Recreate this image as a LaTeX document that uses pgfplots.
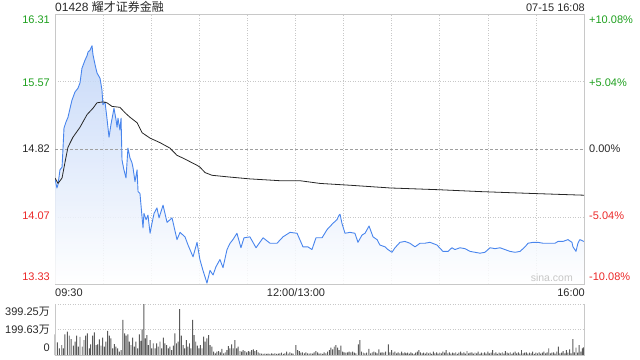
\documentclass[border=0pt]{standalone}
\usepackage{pgfplots}
\pgfplotsset{compat=1.18}
\usepackage{pgfplotstable}
\usepackage{fontspec}
\setmainfont{Liberation Sans}
\newfontfamily\cjk{Noto Sans CJK SC}
\definecolor{upgreen}{RGB}{30,160,30}
\definecolor{downred}{RGB}{235,40,40}
\definecolor{pline}{RGB}{72,133,237}
\definecolor{pfill}{RGB}{190,211,247}
\definecolor{framegray}{RGB}{200,200,200}
\definecolor{gridgray}{RGB}{200,200,200}
\definecolor{txt}{RGB}{40,40,40}
\definecolor{volbar}{RGB}{90,90,90}
\newcommand\lab{\fontsize{11bp}{13bp}\selectfont}

\pgfplotstableread{
m p
0 14.49
1.2 14.39
1.9 14.43
3.1 14.59
4.4 14.62
5.0 14.83
5.6 15.05
6.9 15.12
8.1 15.17
9.4 15.27
10.6 15.36
12.5 15.45
14.3 15.49
15.6 15.55
16.8 15.71
18.7 15.80
20.0 15.85
20.6 15.89
21.8 15.91
23.1 15.96
23.7 15.86
25.0 15.75
26.2 15.66
28.1 15.60
29.3 15.47
29.9 15.31
31.2 15.34
32.4 15.16
33.7 14.95
34.9 15.09
36.8 15.27
38.1 15.14
38.7 15.06
39.3 15.16
40.5 15.03
41.2 15.16
41.8 14.70
43.0 14.59
44.3 14.50
45.5 14.83
46.8 14.72
48.0 14.67
48.7 14.61
49.9 14.46
51.2 14.59
51.8 14.35
53.0 14.33
54.3 14.07
54.9 13.95
55.5 14.11
56.8 14.04
58.0 14.09
59.3 13.89
60.5 14.00
61.8 14.11
63.6 14.17
64.9 14.06
67.4 14.20
69.9 14.01
73.0 14.06
76.1 13.82
78.0 13.90
81.1 13.85
83.0 13.76
86.1 13.63
88.6 13.79
90.4 13.60
92.3 13.48
94.8 13.34
96.7 13.48
98.6 13.43
100.4 13.52
102.9 13.60
104.8 13.51
107.3 13.71
109.2 13.78
111.0 13.82
113.5 13.89
116.0 13.73
117.9 13.84
121.6 13.85
125.4 13.73
129.8 13.84
134.1 13.78
138.5 13.78
142.2 13.85
146.6 13.90
151.0 13.89
154.7 13.74
157.8 13.74
160.3 13.71
162.8 13.84
166.6 13.84
169.7 13.93
173.4 14.00
175.9 14.04
177.2 14.09
177.8 14.10
179.0 14.00
180.9 13.89
184.0 13.90
187.1 13.89
189.0 13.79
191.5 13.87
193.4 13.89
195.9 13.97
198.4 13.85
200.9 13.82
202.7 13.76
205.9 13.74
207.7 13.71
210.2 13.68
212.1 13.73
215.2 13.79
218.3 13.80
221.4 13.78
224.6 13.74
227.7 13.78
230.8 13.78
233.9 13.79
238.3 13.76
242.0 13.69
245.2 13.69
247.6 13.73
249.5 13.71
252.6 13.73
255.8 13.72
258.9 13.69
262.0 13.68
265.1 13.67
268.2 13.68
271.4 13.73
274.5 13.72
277.6 13.73
280.7 13.71
283.8 13.69
287.0 13.68
290.1 13.69
293.2 13.74
295.1 13.78
298.2 13.79
301.3 13.79
304.4 13.78
308.8 13.78
311.9 13.78
313.8 13.80
316.9 13.80
320.0 13.82
322.5 13.79
323.1 13.74
325.0 13.69
326.2 13.78
327.4 13.82
329.9 13.80
}\price

\pgfplotstableread{
m p
0 14.50
1.9 14.44
4.4 14.50
6.2 14.67
8.1 14.84
11.2 14.95
15.6 15.06
20.0 15.20
23.7 15.27
26.2 15.33
29.9 15.34
32.4 15.33
35.6 15.29
40.5 15.28
43.7 15.22
46.8 15.17
51.2 15.11
54.3 15.00
59.3 14.94
65.5 14.89
71.7 14.83
76.1 14.75
79.8 14.72
84.2 14.68
88.6 14.64
90.4 14.62
93.6 14.56
97.9 14.53
109.2 14.51
121.6 14.49
140.4 14.47
152.8 14.47
165.3 14.44
184.0 14.42
209.0 14.39
240.2 14.37
265.1 14.35
296.3 14.33
330.0 14.31
}\avgp

\pgfplotstableread{
m v
0 162
1.5 99
2.7 52
4.2 78
5.2 52
6.2 162
7.7 183
8.9 151
10.0 125
11.4 73
12.5 104
13.5 151
14.6 65
15.6 141
17.0 65
18.1 117
19.1 151
20.2 170
21.4 52
22.2 83
23.5 151
24.5 177
25.6 78
26.6 83
27.7 123
28.7 73
29.7 136
30.8 65
31.8 104
32.8 188
33.9 151
34.9 130
36.0 52
37.0 86
38.0 65
39.1 52
40.1 26
41.2 39
42.4 274
43.4 170
44.4 151
45.4 162
46.4 104
47.4 78
48.4 136
49.5 65
50.5 104
51.6 52
52.6 162
53.6 110
54.4 201
55.4 399
56.4 130
57.3 156
58.3 78
59.3 117
60.3 52
61.3 91
62.4 52
63.4 91
64.4 65
65.5 104
66.5 52
67.6 136
68.6 91
69.6 78
70.7 52
71.7 65
72.8 39
73.8 73
74.8 170
75.8 91
76.8 104
77.8 360
78.9 151
79.9 78
80.9 52
81.9 117
82.9 65
83.9 91
84.8 52
85.8 274
86.8 156
87.8 104
88.8 73
89.7 52
90.7 78
91.7 52
92.7 143
93.7 104
94.8 130
95.8 156
96.8 78
97.9 65
99.0 26
100.0 13
101.0 26
102.1 31
103.1 21
104.1 47
105.2 13
106.2 21
107.2 39
108.2 70
109.1 52
110.2 83
111.2 52
112.2 117
113.3 52
114.3 65
115.4 31
116.4 26
117.4 39
118.5 31
119.5 21
120.6 31
121.6 26
122.6 39
123.7 44
124.7 31
125.8 39
126.8 21
127.8 13
128.9 10
129.9 8
130.9 10
132.0 8
133.0 10
134.1 8
135.1 13
136.1 8
137.2 13
138.2 8
139.3 10
140.3 13
141.3 18
142.4 8
143.4 13
144.5 26
145.5 10
146.5 21
147.6 13
148.6 10
150.3 78
151.3 39
152.4 31
153.4 18
154.4 21
155.5 13
156.5 21
157.6 13
158.6 10
159.6 13
160.7 10
161.7 21
162.8 31
163.8 21
164.8 10
165.9 13
166.9 8
167.9 21
169.0 13
170.0 26
171.1 39
172.1 57
173.2 44
174.2 65
175.2 78
176.3 57
177.3 39
178.3 73
179.4 26
180.4 21
181.5 18
182.5 21
183.5 26
184.6 21
185.6 26
186.7 18
187.7 13
189.2 83
190.2 117
191.2 26
192.3 18
193.3 13
194.4 18
195.8 47
196.9 13
197.9 21
198.9 26
200.0 21
201.0 13
202.1 44
203.1 18
204.1 21
205.2 18
206.2 26
207.9 83
208.9 21
210.0 39
211.0 18
212.0 26
213.1 13
214.1 21
215.1 13
216.2 26
217.2 13
218.3 21
219 13
220 18
221 10
222 21
223 13
224 8
225 18
226 26
227 39
228 21
229 13
230 18
231 10
232 21
233 13
234 18
235 8
236 26
237 13
238 21
239 10
240 18
241 13
242 26
243 18
244 39
245 13
246 21
247 10
248 18
249 13
250 21
251 8
252 18
253 26
254 13
255 21
256 10
257 31
258 13
259 18
260 21
261 10
262 18
263 13
264 26
265 8
266 18
267 13
268 21
269 10
270 26
271 13
272 18
273 39
274 13
275 21
276 8
277 18
278 13
279 21
280 10
281 31
282 18
283 13
284 21
285 8
286 18
287 26
288 13
289 21
290 10
291 39
292 13
293 18
294 21
295 10
296 18
297 13
298 26
299 8
300 18
301 13
302 21
303 10
304 18
305 26
306 13
307 21
308 52
309 13
310 18
311 21
312 10
313 26
314 65
315 13
316 18
317 31
318 13
319 39
320 18
321 44
322 13
323 125
324 21
325 57
326 18
327 78
328 26
329 52
329.6 60
}\vol

\begin{document}
\begin{tikzpicture}
\useasboundingbox (0,0) rectangle (640bp,360bp);

% ---- price panel ----
\begin{axis}[
  at={(55bp,76bp)}, anchor=south west,
  width=529bp, height=270bp, scale only axis,
  xmin=0, xmax=330, ymin=13.33, ymax=16.31,
  xtick={30,60,...,300}, ytick={14.07,15.57},
  xticklabels={}, yticklabels={},
  major tick length=0,
  grid=major,
  grid style={gridgray, line width=0.6bp, dash pattern=on 1bp off 1.5bp},
  axis line style={framegray, line width=0.7bp},
  clip=true,
]
\addplot[draw=none, top color=pfill, bottom color=white, fill opacity=0.85]
  table[x=m,y=p] {\price} |- (axis cs:0,13.33) -- cycle;
\addplot[gray!75, line width=0.6bp, dash pattern=on 3bp off 2bp]
  coordinates {(0,14.82) (330,14.82)};
\addplot[pline, line width=0.9bp, line join=round] table[x=m,y=p] {\price};
\addplot[black!85, line width=0.8bp, line join=round] table[x=m,y=p] {\avgp};
\end{axis}

% ---- volume panel ----
\begin{axis}[
  at={(55bp,5bp)}, anchor=south west,
  width=529bp, height=51bp, scale only axis,
  xmin=0, xmax=330, ymin=0, ymax=399.25,
  xtick=\empty, ytick={199.63,399.25}, yticklabels={},
  major tick length=0,
  ymajorgrids,
  grid style={gridgray, line width=0.6bp, dash pattern=on 1bp off 1.5bp},
  axis line style={draw=none},
  clip=false,
]
\addplot[ybar, bar width=0.6, fill=volbar, draw=none] table[x=m,y=v] {\vol};
\draw[framegray, line width=0.7bp] (rel axis cs:0,1) -- (rel axis cs:0,0) -- (rel axis cs:1,0) -- (rel axis cs:1,1);
\end{axis}

% ---- texts ----
\node[anchor=base west, inner sep=0, text=txt] at (55bp,348bp) {\fontsize{12bp}{14bp}\selectfont 01428 {\cjk 耀才证券金融}};
\node[anchor=base east, inner sep=0, text=txt] at (585bp,348bp) {\lab 07-15 16:08};

\node[anchor=base east, inner sep=0, text=upgreen] at (50bp,336bp) {\lab 16.31};
\node[anchor=base east, inner sep=0, text=upgreen] at (50bp,273bp) {\lab 15.57};
\node[anchor=base east, inner sep=0, text=txt] at (50bp,207bp) {\lab 14.82};
\node[anchor=base east, inner sep=0, text=downred] at (50bp,140bp) {\lab 14.07};
\node[anchor=base east, inner sep=0, text=downred] at (50bp,79bp) {\lab 13.33};

\node[anchor=base west, inner sep=0, text=upgreen] at (589bp,336bp) {\lab +10.08\%};
\node[anchor=base west, inner sep=0, text=upgreen] at (589bp,273bp) {\lab +5.04\%};
\node[anchor=base west, inner sep=0, text=txt] at (589bp,207bp) {\lab 0.00\%};
\node[anchor=base west, inner sep=0, text=downred] at (589bp,140bp) {\lab -5.04\%};
\node[anchor=base west, inner sep=0, text=downred] at (589bp,79bp) {\lab -10.08\%};

\node[anchor=base east, inner sep=0, text=black!22] at (573bp,78bp) {\fontsize{10.5bp}{12bp}\selectfont sina.com};

\node[anchor=base west, inner sep=0, text=txt] at (55bp,63bp) {\lab 09:30};
\node[anchor=base, inner sep=0, text=txt] at (296bp,63bp) {\lab 12:00/13:00};
\node[anchor=base east, inner sep=0, text=txt] at (585bp,63bp) {\lab 16:00};

\node[anchor=base east, inner sep=0, text=txt] at (50bp,44.5bp) {\lab 399.25{\cjk 万}};
\node[anchor=base east, inner sep=0, text=txt] at (50bp,27bp) {\lab 199.63{\cjk 万}};
\node[anchor=base east, inner sep=0, text=txt] at (50bp,8.3bp) {\lab 0};
\end{tikzpicture}
\end{document}
